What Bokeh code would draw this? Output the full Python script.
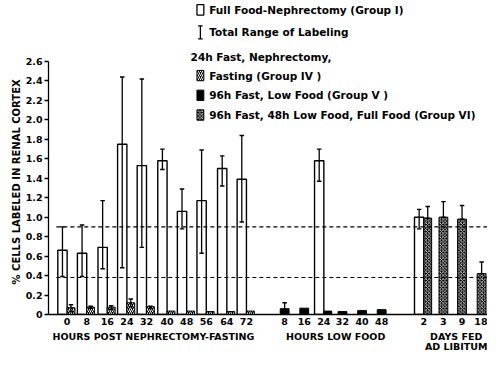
from bokeh.plotting import figure
from bokeh.models import FixedTicker, LinearAxis, NumeralTickFormatter, Title
from bokeh.core.properties import value
from bokeh.embed import file_html
from bokeh.resources import INLINE

# ---------------- data ----------------
fast_hours = [0, 8, 16, 24, 32, 40, 48, 56, 64, 72]
g1_fast = [0.66, 0.63, 0.69, 1.75, 1.53, 1.58, 1.06, 1.17, 1.50, 1.39]
g1_fast_lo = [0.39, 0.39, 0.47, 0.48, 0.69, 1.49, 0.88, 0.63, 1.32, 0.95]
g1_fast_hi = [0.90, 0.92, 1.17, 2.44, 2.42, 1.70, 1.29, 1.69, 1.63, 1.84]
g4_fast = [0.07, 0.075, 0.075, 0.12, 0.08, 0.035, 0.035, 0.03, 0.03, 0.035]
g4_fast_lo = [0.03, 0.06, 0.05, 0.08, 0.06, None, None, None, None, None]
g4_fast_hi = [0.10, 0.085, 0.09, 0.16, 0.085, None, None, None, None, None]

low_hours = [8, 16, 24, 32, 40, 48]
g1_low = [None, None, 1.58, None, None, None]
g1_low_lo = [None, None, 1.37, None, None, None]
g1_low_hi = [None, None, 1.70, None, None, None]
g5_low = [0.06, 0.065, 0.035, 0.03, 0.04, 0.05]
g5_low_lo = [0.02, None, None, None, None, None]
g5_low_hi = [0.12, None, None, None, None, None]

days_fed = [2, 3, 9, 18]
g1_days = [1.00, None, None, None]
g1_days_lo = [0.88, None, None, None]
g1_days_hi = [1.08, None, None, None]
g6_days = [0.99, 1.00, 0.98, 0.42]
g6_days_lo = [0.99, 1.00, 0.98, 0.42]
g6_days_hi = [1.11, 1.16, 1.12, 0.54]

ref_levels = [0.9, 0.38]
y_ticks = [round(0.2 * i, 1) for i in range(14)]

section_titles = ["HOURS POST NEPHRECTOMY-FASTING", "HOURS LOW FOOD", "DAYS FED\nAD LIBITUM"]
y_title = "% CELLS LABELED IN RENAL CORTEX"
legend_texts = ["Full Food-Nephrectomy (Group I)", "Total Range of Labeling",
                "24h Fast, Nephrectomy,", "Fasting (Group IV )",
                "96h Fast, Low Food (Group V )",
                "96h Fast, 48h Low Food, Full Food (Group VI)"]

# ---------------- layout ----------------
W, H = 487, 354
FRAME_H = 314
TOP26 = 61
Y_END = 2.6 * FRAME_H / (FRAME_H - TOP26)
FONT = value("DejaVu Sans")
TITLE_PAD = "\u00a0" * 14   # pushes the centred, rotated title down beside the 0-2.6 axis


def ry(r):
    """row of the original layout (px) -> data value"""
    fy = TOP26 + (r - 65) * (FRAME_H - TOP26) / 269.5
    return (FRAME_H - fy) * Y_END / FRAME_H


p = figure(width=W, height=H, output_backend="svg", toolbar_location=None,
           x_range=(50, 498), y_range=(0, Y_END),
           min_border_left=48, min_border_right=0, min_border_top=0,
           min_border_bottom=H - FRAME_H)
p.outline_line_color = None
p.grid.visible = False
p.background_fill_color = "white"

sections = [
    (fast_hours, 69, 20.35, g1_fast, g1_fast_lo, g1_fast_hi, g4_fast, g4_fast_lo, g4_fast_hi, "IV"),
    (low_hours, 291, 19.8, g1_low, g1_low_lo, g1_low_hi, g5_low, g5_low_lo, g5_low_hi, "V"),
    (days_fed, 433, 19.6, g1_days, g1_days_lo, g1_days_hi, g6_days, g6_days_lo, g6_days_hi, "VI"),
]
title_pos = [157, 343, 469]

styles = {
    "IV": dict(fill_color="black", hatch_pattern="/", hatch_color="white", hatch_scale=4, hatch_weight=1),
    "V": dict(fill_color="black"),
    "VI": dict(fill_color="black", hatch_pattern="x", hatch_color="white", hatch_scale=3.5, hatch_weight=0.8),
}

ticks, overrides = [], {}
wl, wr, wt = [], [], []
dk = {k: dict(l=[], r=[], t=[]) for k in styles}
ex, elo, ehi = [], [], []

for cats, start, step, g1, g1lo, g1hi, gd, gdlo, gdhi, key in sections:
    for i, cat in enumerate(cats):
        c = int(round(start + i * step))
        ticks.append(c)
        overrides[c] = str(cat)
        if g1[i] is not None:
            wl.append(c - 9.5); wr.append(c); wt.append(g1[i])
            ex.append(c - 4.75); elo.append(g1lo[i]); ehi.append(g1hi[i])
            dl, dr = c, c + 8
        else:
            dl, dr = c - 4.5, c + 4.5
        if gd[i] is not None:
            dk[key]["l"].append(dl); dk[key]["r"].append(dr); dk[key]["t"].append(gd[i])
            if gdhi[i] is not None:
                ex.append((dl + dr) / 2); elo.append(gdlo[i]); ehi.append(gdhi[i])

# bars
p.quad(left=wl, right=wr, bottom=0, top=wt, fill_color="white", line_color="black", line_width=1.4)
for key, st in styles.items():
    d = dk[key]
    p.quad(left=d["l"], right=d["r"], bottom=0, top=d["t"], line_color="black", line_width=1, **st)

# error bars (total range)
p.segment(x0=ex, y0=elo, x1=ex, y1=ehi, line_color="black", line_width=1.3)
cx0 = [x - 2.3 for x in ex]
cx1 = [x + 2.3 for x in ex]
p.segment(x0=cx0, y0=ehi, x1=cx1, y1=ehi, line_color="black", line_width=1.4)
p.segment(x0=cx0, y0=elo, x1=cx1, y1=elo, line_color="black", line_width=1.4)

# dashed reference levels
p.segment(x0=[58] * len(ref_levels), y0=ref_levels, x1=[498] * len(ref_levels), y1=ref_levels,
          line_color="black", line_width=1.1, line_dash="4 3")

# y axis
p.yaxis.bounds = (0, 2.6)
p.yaxis.ticker = FixedTicker(ticks=y_ticks)
p.yaxis.formatter = NumeralTickFormatter(format="0.0")
p.yaxis.major_label_overrides = {0: "0"}
p.yaxis.minor_tick_line_color = None
p.yaxis.major_tick_out = 4
p.yaxis.major_tick_in = 0
p.yaxis.major_label_standoff = 2
p.yaxis.axis_line_width = 1.3
p.yaxis.major_tick_line_width = 1.3
p.yaxis.major_label_text_font = "DejaVu Sans"
p.yaxis.major_label_text_font_style = "bold"
p.yaxis.major_label_text_font_size = "9.5px"
p.yaxis.major_label_text_color = "black"

# y title
p.add_layout(Title(text=y_title + TITLE_PAD, align="center", standoff=2,
                   text_font="DejaVu Sans", text_font_style="bold", text_font_size="10px",
                   text_color="black"), "left")

# x axis (category labels)
p.xaxis.ticker = FixedTicker(ticks=ticks)
p.xaxis.major_label_overrides = overrides
p.xaxis.minor_tick_line_color = None
p.xaxis.major_tick_line_color = None
p.xaxis.major_tick_out = 0
p.xaxis.major_tick_in = 0
p.xaxis.major_label_standoff = 3
p.xaxis.axis_line_width = 1.5
p.xaxis.major_label_text_font = "DejaVu Sans"
p.xaxis.major_label_text_font_style = "bold"
p.xaxis.major_label_text_font_size = "9.5px"
p.xaxis.major_label_text_color = "black"

# section titles as a second axis below
ax2 = LinearAxis(ticker=FixedTicker(ticks=title_pos),
                 major_label_overrides={k: v for k, v in zip(title_pos, section_titles)},
                 axis_line_color=None, major_tick_line_color=None, minor_tick_line_color=None,
                 major_tick_out=0, major_tick_in=0, major_label_standoff=3,
                 major_label_text_font="DejaVu Sans", major_label_text_font_style="bold",
                 major_label_text_font_size="9.5px", major_label_text_color="black",
                 major_label_text_line_height=0.95)
p.add_layout(ax2, "below")

# legend (drawn inside the empty upper area)
rows = [10, 34, 60, 80, 101, 122]
ix, tx, hx = 205, 214, 195
p.quad(left=[ix - 3.5], right=[ix + 3.5], bottom=[ry(rows[0] + 5.5)], top=[ry(rows[0] - 5.5)],
       fill_color="white", line_color="black", line_width=1.3)
p.segment(x0=[ix], y0=[ry(rows[1] + 7)], x1=[ix], y1=[ry(rows[1] - 7)], line_color="black", line_width=1.3)
p.segment(x0=[ix - 2.3, ix - 2.3], y0=[ry(rows[1] + 7), ry(rows[1] - 7)],
          x1=[ix + 2.3, ix + 2.3], y1=[ry(rows[1] + 7), ry(rows[1] - 7)], line_color="black", line_width=1.3)
for key, r in zip(["IV", "V", "VI"], rows[3:]):
    p.quad(left=[ix - 3.5], right=[ix + 3.5], bottom=[ry(r + 5.5)], top=[ry(r - 5.5)],
           line_color="black", line_width=1, **styles[key])

lx = [tx, tx, hx, tx, tx, tx]
p.text(x=lx, y=[ry(r) for r in rows], text=legend_texts, text_font=FONT, text_font_style="bold",
       text_font_size="10.5px", text_baseline="middle", text_align="left", text_color="black")

open("out.html", "w").write(file_html(p, INLINE))
